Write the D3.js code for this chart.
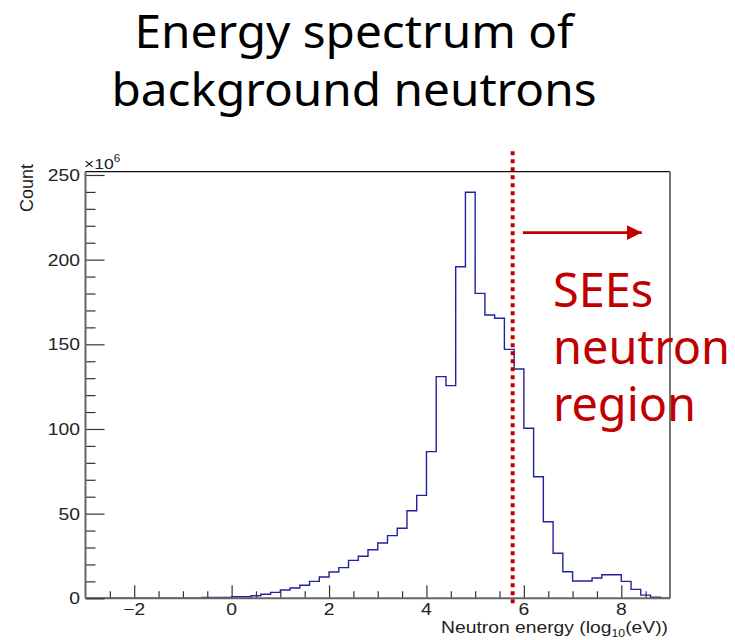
<!DOCTYPE html>
<html>
<head>
<meta charset="utf-8">
<script src="https://cdn.jsdelivr.net/npm/d3@7"></script>
<style>
  html, body { margin: 0; padding: 0; background: #fff; }
  svg { display: block; }
</style>
</head>
<body>
<svg id="chart" width="735" height="640"></svg>
<script>
// ---------------- data ----------------
const binLow = [
  -3.0, -2.8, -2.6, -2.4, -2.2, -2.0, -1.8, -1.6, -1.4, -1.2,
  -1.0, -0.8, -0.6, -0.4, -0.2, 0.0, 0.2, 0.4, 0.6, 0.8,
  1.0, 1.2, 1.4, 1.6, 1.8, 2.0, 2.2, 2.4, 2.6, 2.8,
  3.0, 3.2, 3.4, 3.6, 3.8, 4.0, 4.2, 4.4, 4.6, 4.8,
  5.0, 5.2, 5.4, 5.6, 5.8, 6.0, 6.2, 6.4, 6.6, 6.8,
  7.0, 7.2, 7.4, 7.6, 7.8, 8.0, 8.2, 8.4, 8.6, 8.8
];
const binWidth = 0.2;
// counts in units of 10^6
const counts = [
  0, 0, 0, 0, 0, 0, 0, 0, 0, 0,
  0, 0, 0.5, 0.5, 0.5, 0.9, 0.9, 1.5, 2.4, 3.5,
  4.9, 6.1, 7.7, 10.0, 12.6, 15.5, 18.1, 22.4, 24.8, 28.7,
  32.7, 37.0, 41.4, 51.7, 60.8, 86.6, 130.9, 125.6, 195.8, 239.8,
  180.1, 167.3, 165.4, 147.0, 135.4, 100.4, 71.8, 45.2, 26.6, 15.7,
  10.2, 10.2, 12.0, 13.9, 13.9, 10.0, 5.3, 1.9, 0.6, 0
];
const xDomain = [-3, 9];
const yDomain = [0, 252];
const xMajorTicks = [-2, 0, 2, 4, 6, 8];
const xMinorStep = 0.5;
const yMajorTicks = [0, 50, 100, 150, 200, 250];
const yMinorStep = 10;
const titleLines = ["Energy spectrum of", "background neutrons"];
const annotationLines = ["SEEs", "neutron", "region"];
const cutEnergy = 5.77;          // red dotted marker (log10 eV)
const arrowFrom = [5.98, 216];   // data coords
const arrowTo = [8.42, 216];

// ---------------- layout ----------------
const svg = d3.select("#chart");
const L = 85.5, R = 670, T = 171.6, B = 598.3;
const x = d3.scaleLinear().domain(xDomain).range([L, R]);
const y = d3.scaleLinear().domain(yDomain).range([B, T]);
const rootFont = "'Liberation Sans', Arial, Helvetica, sans-serif";
const uiFont = "'Noto Sans', 'Open Sans', sans-serif";
const axisGrey = "#666";
const sx = 1.17; // horizontal stretch of the ROOT canvas text

// Title (fit line 1 width to reference)
const titleG = svg.append("g");
const tl = titleG.selectAll("text").data(titleLines).join("text")
  .attr("text-anchor", "middle")
  .attr("font-family", uiFont).attr("font-size", 45)
  .attr("fill", "#000").text(d => d);
const w0 = tl.nodes()[0].getComputedTextLength() || 439;
const tScale = 439 / w0;
tl.attr("transform", (d, i) => `translate(354,${48 + i * 58}) scale(${tScale},1)`);

// Clip
svg.append("clipPath").attr("id", "plotclip").append("rect")
  .attr("x", L).attr("y", T - 1).attr("width", R - L).attr("height", B - T + 1);

// Histogram
const pts = binLow.map((b, i) => [b, counts[i]]);
pts.push([binLow[binLow.length - 1] + binWidth, counts[counts.length - 1]]);
const line = d3.line().x(d => x(d[0])).y(d => y(d[1])).curve(d3.curveStepAfter);
svg.append("path").attr("d", line(pts))
  .attr("clip-path", "url(#plotclip)")
  .attr("fill", "none").attr("stroke", "#2222a0").attr("stroke-width", 1.4);

// Frame top/right
svg.append("line").attr("x1", L).attr("x2", R).attr("y1", T).attr("y2", T)
  .attr("stroke", "#111").attr("stroke-width", 1.2);
svg.append("line").attr("x1", R).attr("x2", R).attr("y1", T).attr("y2", B)
  .attr("stroke", axisGrey).attr("stroke-width", 1.8);

// X axis
const xMinor = d3.range(xDomain[0] + xMinorStep, xDomain[1], xMinorStep)
  .filter(v => !xMajorTicks.includes(v));
const xAxisMinor = d3.axisTop(x).tickValues(xMinor).tickSize(7).tickFormat("");
const xAxisMajor = d3.axisTop(x).tickValues(xMajorTicks).tickSize(13).tickFormat("");
[xAxisMinor, xAxisMajor].forEach(ax => {
  const g = svg.append("g").attr("transform", `translate(0,${B})`).call(ax);
  g.select(".domain").remove();
  g.selectAll(".tick line").attr("stroke", "#333").attr("stroke-width", 1.2);
});
svg.append("line").attr("x1", L).attr("x2", R).attr("y1", B).attr("y2", B)
  .attr("stroke", axisGrey).attr("stroke-width", 2);
svg.append("g").selectAll("text").data(xMajorTicks).join("text")
  .attr("transform", d => `translate(${x(d)},615) scale(${sx},1)`)
  .attr("text-anchor", "middle")
  .attr("font-family", rootFont).attr("font-size", 16.5).attr("fill", "#222")
  .text(d => d < 0 ? "\u2212" + Math.abs(d) : d);

// X title
const xt = svg.append("text")
  .attr("transform", `translate(668,633) scale(${sx},1)`)
  .attr("text-anchor", "end")
  .attr("font-family", rootFont).attr("font-size", 16.5).attr("fill", "#222");
xt.append("tspan").text("Neutron energy (log");
xt.append("tspan").attr("font-size", 10.5).attr("dy", 3.5).text("10");
xt.append("tspan").attr("dy", -3.5).text("(eV))");

// Y axis
const yMinor = d3.range(yDomain[0] + yMinorStep, yDomain[1], yMinorStep)
  .filter(v => !yMajorTicks.includes(v));
const yAxisMinor = d3.axisRight(y).tickValues(yMinor).tickSize(10).tickFormat("");
const yAxisMajor = d3.axisRight(y).tickValues(yMajorTicks).tickSize(19).tickFormat("");
[yAxisMinor, yAxisMajor].forEach(ax => {
  const g = svg.append("g").attr("transform", `translate(${L},0)`).call(ax);
  g.select(".domain").remove();
  g.selectAll(".tick line").attr("stroke", "#333").attr("stroke-width", 1.2);
});
svg.append("line").attr("x1", L).attr("x2", L).attr("y1", T).attr("y2", B)
  .attr("stroke", axisGrey).attr("stroke-width", 2);
svg.append("g").selectAll("text").data(yMajorTicks).join("text")
  .attr("transform", d => `translate(80,${y(d) + 6}) scale(${sx},1)`)
  .attr("text-anchor", "end")
  .attr("font-family", rootFont).attr("font-size", 16.5).attr("fill", "#222")
  .text(d => d);

// x10^6
const ex = svg.append("text")
  .attr("transform", `translate(84,169) scale(${sx},1)`)
  .attr("font-family", rootFont).attr("font-size", 15).attr("fill", "#222");
ex.append("tspan").text("\u00d710");
ex.append("tspan").attr("font-size", 10).attr("dy", -7).text("6");

// Y title
svg.append("text")
  .attr("transform", `translate(33,164) rotate(-90)`)
  .attr("text-anchor", "end")
  .attr("font-family", rootFont).attr("font-size", 18).attr("fill", "#222")
  .text("Count");

// Red dotted cut line
svg.append("line")
  .attr("x1", x(cutEnergy)).attr("x2", x(cutEnergy))
  .attr("y1", y(264)).attr("y2", y(-3))
  .attr("stroke", "#c00000").attr("stroke-width", 4)
  .attr("stroke-dasharray", "4,4");

// Arrow
svg.append("defs").append("marker")
  .attr("id", "ah").attr("viewBox", "0 0 10 10")
  .attr("refX", 10).attr("refY", 5)
  .attr("markerWidth", 5.5).attr("markerHeight", 5.5)
  .attr("markerUnits", "strokeWidth")
  .attr("orient", "auto")
  .append("path").attr("d", "M0,0 L10,5 L0,10 Z").attr("fill", "#c00000");
svg.append("line")
  .attr("x1", x(arrowFrom[0])).attr("y1", y(arrowFrom[1]))
  .attr("x2", x(arrowTo[0])).attr("y2", y(arrowTo[1]))
  .attr("stroke", "#c00000").attr("stroke-width", 2.7)
  .attr("marker-end", "url(#ah)");

// Annotation text (fit "neutron" width to reference)
const an = svg.append("g").selectAll("text").data(annotationLines).join("text")
  .attr("font-family", uiFont).attr("font-size", 48)
  .attr("fill", "#c00000").text(d => d);
const wn = an.nodes()[1].getComputedTextLength() || 177;
const aScale = 177 / wn;
an.attr("transform", (d, i) => `translate(553,${307 + i * 57}) scale(${aScale},1)`);
</script>
</body>
</html>
